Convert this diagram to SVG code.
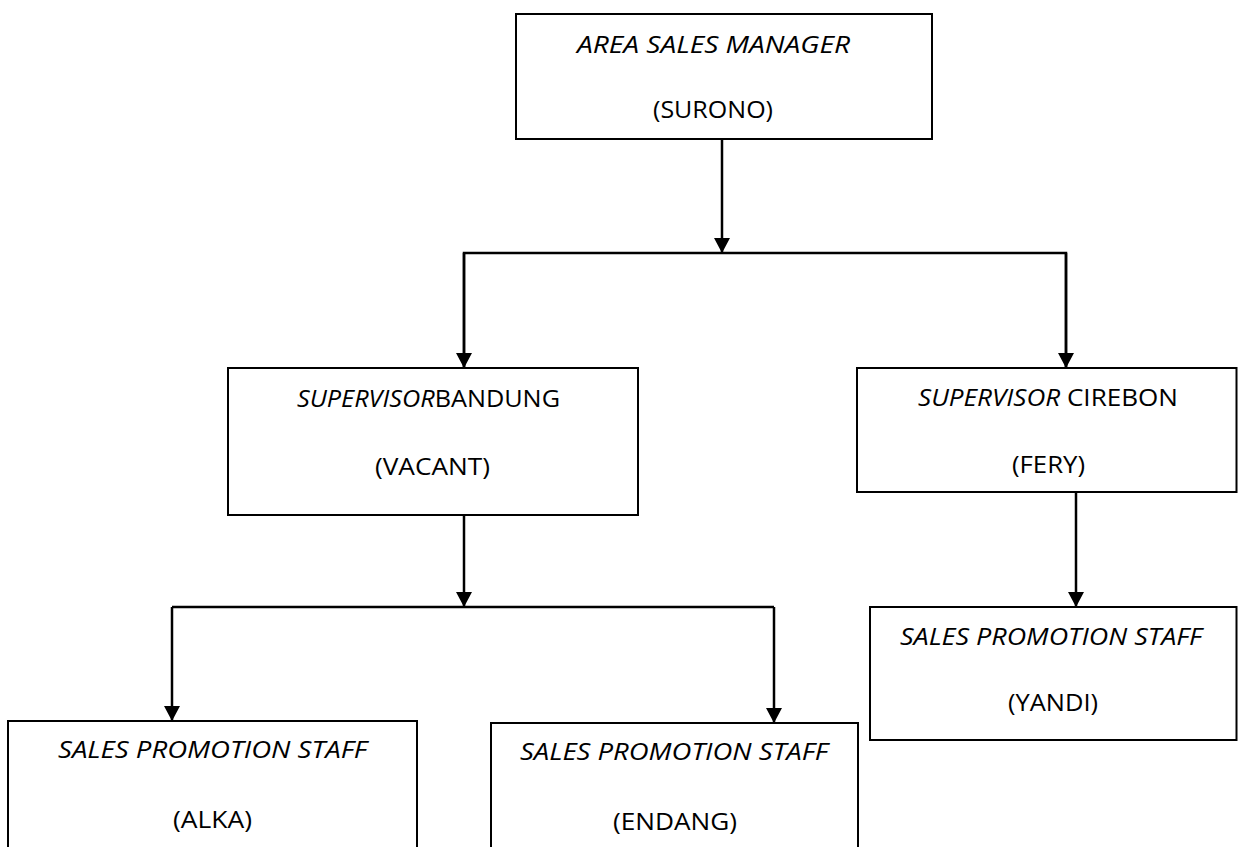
<svg xmlns="http://www.w3.org/2000/svg" width="1238" height="847" viewBox="0 0 1238 847">
<defs>
<style>
.box{fill:#fff;stroke:#000;stroke-width:2}
.t{font-family:"Open Sans","Liberation Sans",sans-serif;font-size:24px;fill:#000}
.i{font-style:italic}
.c{fill:none;stroke:#000;stroke-width:2.5}
</style>
<marker id="ah" markerWidth="16" markerHeight="15" refX="8" refY="15" orient="0" markerUnits="userSpaceOnUse" viewBox="0 0 16 15">
<path d="M0,0 L16,0 L8,15 Z" fill="#000"/>
</marker>
</defs>
<rect width="1238" height="847" fill="#fff"/>
<g id="connectors">
<path class="c" d="M722,139 V253" marker-end="url(#ah)"/>
<path class="c" d="M464,368 V253 H1066 V368" />
<path class="c" d="M464,253 V368" marker-end="url(#ah)"/>
<path class="c" d="M1066,253 V368" marker-end="url(#ah)"/>
<path class="c" d="M464,515 V607" marker-end="url(#ah)"/>
<path class="c" d="M172,607 H774"/>
<path class="c" d="M172,607 V721" marker-end="url(#ah)"/>
<path class="c" d="M774,607 V723" marker-end="url(#ah)"/>
<path class="c" d="M1076,492 V607" marker-end="url(#ah)"/>
</g>
<g id="asm">
<rect class="box" x="516" y="14" width="416" height="125"/>
<text class="t i" x="577" y="53" textLength="273" lengthAdjust="spacingAndGlyphs">AREA SALES MANAGER</text>
<text class="t" x="653" y="118" textLength="120" lengthAdjust="spacingAndGlyphs">(SURONO)</text>
</g>
<g id="sup-bandung">
<rect class="box" x="228" y="368" width="410" height="147"/>
<text class="t" x="297" y="407" textLength="263" lengthAdjust="spacingAndGlyphs"><tspan class="i">SUPERVISOR</tspan>BANDUNG</text>
<text class="t" x="375" y="475" textLength="115" lengthAdjust="spacingAndGlyphs">(VACANT)</text>
</g>
<g id="sup-cirebon">
<rect class="box" x="857" y="368" width="379.5" height="124"/>
<text class="t" x="918" y="406" textLength="260" lengthAdjust="spacingAndGlyphs"><tspan class="i">SUPERVISOR</tspan> CIREBON</text>
<text class="t" x="1012" y="473" textLength="73" lengthAdjust="spacingAndGlyphs">(FERY)</text>
</g>
<g id="sps-yandi">
<rect class="box" x="870" y="607" width="366.5" height="133"/>
<text class="t i" x="900" y="645" textLength="302" lengthAdjust="spacingAndGlyphs">SALES PROMOTION STAFF</text>
<text class="t" x="1008" y="711" textLength="90" lengthAdjust="spacingAndGlyphs">(YANDI)</text>
</g>
<g id="sps-alka">
<rect class="box" x="8" y="721" width="409" height="140"/>
<text class="t i" x="58" y="758" textLength="309" lengthAdjust="spacingAndGlyphs">SALES PROMOTION STAFF</text>
<text class="t" x="173" y="828" textLength="79" lengthAdjust="spacingAndGlyphs">(ALKA)</text>
</g>
<g id="sps-endang">
<rect class="box" x="491" y="723" width="367" height="140"/>
<text class="t i" x="520" y="760" textLength="308" lengthAdjust="spacingAndGlyphs">SALES PROMOTION STAFF</text>
<text class="t" x="613" y="830" textLength="124" lengthAdjust="spacingAndGlyphs">(ENDANG)</text>
</g>
</svg>
